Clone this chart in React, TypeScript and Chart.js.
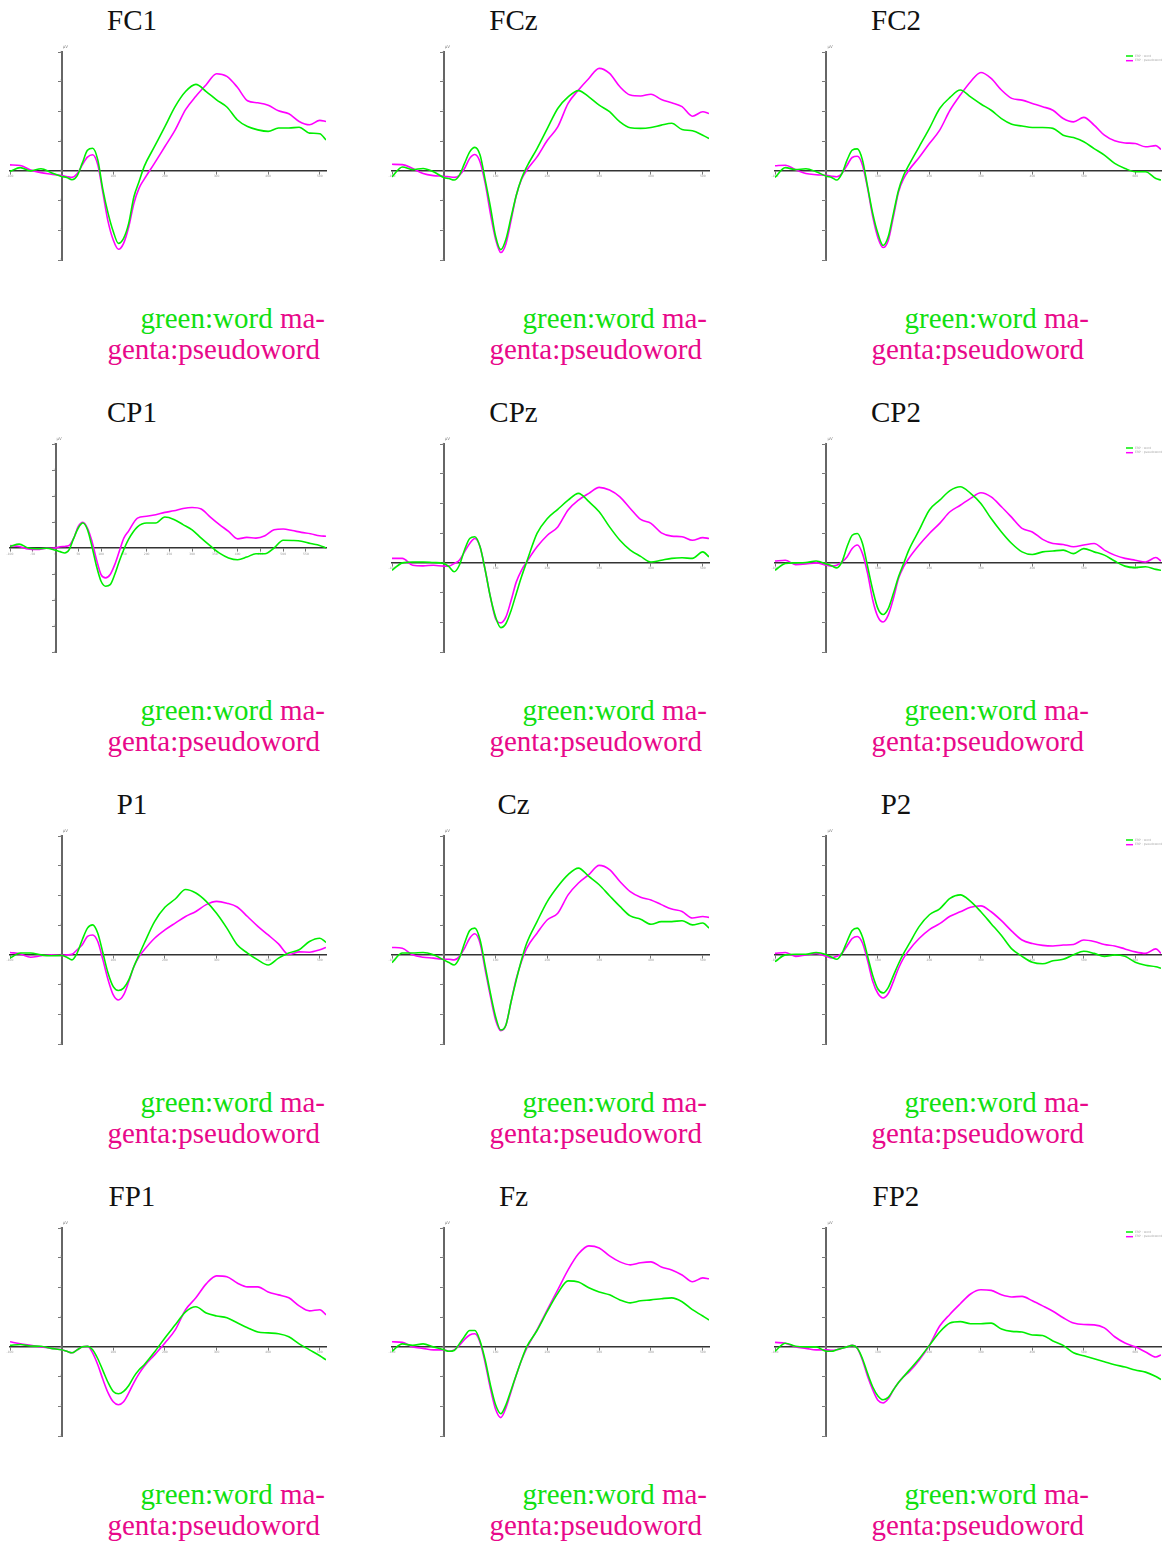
import React, { useEffect, useRef } from "react";
import { Chart, registerables } from "chart.js";

Chart.register(...registerables);

// ---- time axes (ms) ----
const T_BASE = [-100, -80, -60, -40, -20, 0, 10, 20, 30, 40, 50, 60, 70, 80, 90, 100, 110, 120, 130, 140, 150, 160, 180, 200, 220, 240, 260, 280, 300, 320, 340, 360, 380, 400, 420, 440, 460, 480, 500];
const T_STD = [...T_BASE, 512];
const T_RIGHT = [...T_BASE, 520, 540, 560, 580, 600, 620, 640, 650];
const T_CP1 = [...T_BASE, 520, 540, 560, 580, 594];

// ---- series (word = green, pseudoword = magenta) ----
const FC1_WORD = [-0.02, 0.11, 0, 0.07, -0.06, -0.19, -0.22, -0.3, -0.17, 0.26, 0.69, 0.76, 0.37, -0.64, -1.43, -2.04, -2.44, -2.27, -1.76, -0.87, -0.36, 0.15, 0.82, 1.49, 2.17, 2.67, 2.91, 2.67, 2.39, 2.15, 1.72, 1.49, 1.38, 1.33, 1.44, 1.44, 1.47, 1.27, 1.25, 1.04];
const FC1_PSEUDO = [0.2, 0.18, 0.03, -0.06, -0.11, -0.16, -0.19, -0.22, -0.1, 0.2, 0.46, 0.54, 0.2, -0.75, -1.71, -2.33, -2.64, -2.44, -1.88, -1.09, -0.58, -0.28, 0.26, 0.82, 1.38, 2.06, 2.51, 2.9, 3.27, 3.18, 2.82, 2.36, 2.29, 2.21, 2.02, 1.92, 1.66, 1.55, 1.7, 1.66];

const FCZ_WORD = [-0.2, 0.13, 0.04, 0.08, -0.03, -0.22, -0.26, -0.31, -0.15, 0.25, 0.64, 0.79, 0.53, -0.31, -1.21, -2.2, -2.65, -2.3, -1.55, -0.82, -0.26, 0.13, 0.75, 1.43, 2.1, 2.49, 2.7, 2.49, 2.21, 1.99, 1.65, 1.45, 1.43, 1.46, 1.54, 1.6, 1.39, 1.35, 1.2, 1.09];
const FCZ_PSEUDO = [0.22, 0.21, 0.08, -0.09, -0.16, -0.18, -0.2, -0.22, -0.15, 0.08, 0.42, 0.55, 0.3, -0.43, -1.44, -2.3, -2.75, -2.45, -1.66, -0.82, -0.29, 0.02, 0.47, 1.03, 1.48, 2.27, 2.72, 3.11, 3.45, 3.28, 2.83, 2.55, 2.52, 2.58, 2.4, 2.29, 2.16, 1.84, 1.99, 1.93];

const FC2_WORD = [-0.22, 0.11, 0.04, 0.07, -0.03, -0.18, -0.22, -0.31, -0.09, 0.36, 0.7, 0.74, 0.36, -0.54, -1.44, -2.11, -2.51, -2.22, -1.44, -0.65, -0.15, 0.19, 0.81, 1.43, 2.1, 2.47, 2.72, 2.49, 2.25, 2.04, 1.76, 1.57, 1.51, 1.46, 1.46, 1.43, 1.2, 1.12, 0.98, 0.75, 0.53, 0.25, 0.08, -0.03, -0.03, -0.26, -0.31];
const FC2_PSEUDO = [0.17, 0.19, 0.04, -0.09, -0.13, -0.15, -0.18, -0.2, -0.09, 0.19, 0.45, 0.49, 0.19, -0.6, -1.55, -2.25, -2.58, -2.34, -1.55, -0.71, -0.26, 0.02, 0.45, 0.92, 1.37, 2.04, 2.55, 3.0, 3.31, 3.11, 2.72, 2.44, 2.38, 2.27, 2.16, 2.04, 1.76, 1.65, 1.8, 1.54, 1.2, 1.01, 0.94, 0.92, 0.81, 0.85, 0.72];

const CP1_WORD = [0.06, 0.15, 0, -0.03, -0.01, -0.09, -0.14, -0.19, -0.06, 0.38, 0.77, 0.96, 0.71, 0.06, -0.7, -1.28, -1.47, -1.41, -1.02, -0.51, -0.06, 0.32, 0.81, 0.96, 0.96, 1.19, 1.1, 0.9, 0.7, 0.38, 0.08, -0.2, -0.38, -0.45, -0.35, -0.22, -0.22, 0, 0.3, 0.29, 0.26, 0.17, 0.1, 0];
const CP1_PSEUDO = [0.09, 0.06, -0.04, -0.06, -0.01, 0, 0.05, 0.06, 0.1, 0.38, 0.83, 0.99, 0.77, 0.26, -0.45, -1.02, -1.15, -1.02, -0.64, -0.13, 0.38, 0.64, 1.15, 1.22, 1.28, 1.37, 1.43, 1.52, 1.56, 1.5, 1.19, 0.9, 0.64, 0.35, 0.41, 0.38, 0.47, 0.7, 0.73, 0.67, 0.6, 0.55, 0.47, 0.45];

const CPZ_WORD = [-0.25, 0, 0.03, 0.03, 0.01, -0.02, -0.13, -0.3, -0.08, 0.43, 0.82, 0.88, 0.54, -0.25, -1.15, -1.82, -2.18, -2.04, -1.6, -1.03, -0.47, 0.03, 0.99, 1.49, 1.8, 2.11, 2.34, 2.06, 1.72, 1.21, 0.76, 0.43, 0.22, 0.03, 0.09, 0.15, 0.17, 0.15, 0.37, 0.2];
const CPZ_PSEUDO = [0.15, 0.15, -0.08, -0.1, -0.08, -0.11, -0.11, -0.02, 0.09, 0.37, 0.65, 0.82, 0.54, -0.25, -1.15, -1.88, -2.02, -1.82, -1.26, -0.64, -0.25, 0.03, 0.54, 0.93, 1.21, 1.78, 2.11, 2.34, 2.54, 2.45, 2.22, 1.83, 1.46, 1.33, 1.01, 0.9, 0.88, 0.76, 0.85, 0.82];

const CP2_WORD = [-0.25, -0.02, 0, 0.01, 0.06, -0.04, -0.1, -0.17, 0.03, 0.54, 0.93, 0.99, 0.65, -0.13, -0.92, -1.54, -1.74, -1.54, -1.03, -0.47, -0.02, 0.43, 1.1, 1.78, 2.11, 2.43, 2.56, 2.34, 2.0, 1.49, 1.04, 0.65, 0.37, 0.28, 0.37, 0.4, 0.43, 0.31, 0.48, 0.37, 0.26, 0.06, -0.11, -0.16, -0.13, -0.22, -0.25];
const CP2_PSEUDO = [0.06, 0.09, -0.06, -0.04, 0, -0.08, -0.11, -0.08, 0.03, 0.2, 0.48, 0.6, 0.31, -0.36, -1.26, -1.82, -1.99, -1.76, -1.2, -0.53, -0.13, 0.15, 0.6, 0.99, 1.33, 1.72, 1.94, 2.17, 2.36, 2.22, 1.89, 1.53, 1.16, 1.04, 0.79, 0.65, 0.62, 0.54, 0.6, 0.65, 0.43, 0.26, 0.15, 0.09, 0.03, 0.18, 0.06];

const P1_WORD = [-0.11, 0.06, 0.06, 0, -0.03, -0.02, -0.08, -0.17, 0.06, 0.51, 0.9, 1.01, 0.73, 0.06, -0.62, -1.07, -1.2, -1.12, -0.84, -0.39, 0, 0.39, 1.12, 1.6, 1.88, 2.2, 2.08, 1.8, 1.4, 0.9, 0.34, 0.06, -0.17, -0.34, -0.11, 0.06, 0.17, 0.45, 0.56, 0.42];
const P1_PSEUDO = [0.08, 0.03, -0.08, -0.03, 0, -0.02, 0, 0.02, 0.17, 0.34, 0.62, 0.67, 0.45, -0.17, -0.84, -1.35, -1.52, -1.35, -0.9, -0.39, -0.06, 0.17, 0.56, 0.84, 1.07, 1.29, 1.46, 1.69, 1.8, 1.74, 1.61, 1.29, 0.96, 0.67, 0.37, 0.01, 0.1, 0.09, 0.17, 0.25];

const CZ_WORD = [-0.26, 0.06, 0.06, 0.08, 0, -0.17, -0.26, -0.34, -0.11, 0.39, 0.82, 0.9, 0.51, -0.39, -1.29, -2.08, -2.53, -2.36, -1.57, -0.84, -0.17, 0.39, 1.12, 1.8, 2.3, 2.7, 2.92, 2.64, 2.36, 1.99, 1.63, 1.31, 1.2, 1.03, 1.12, 1.12, 1.15, 1.01, 1.07, 0.9];
const CZ_PSEUDO = [0.25, 0.22, 0, -0.08, -0.11, -0.15, -0.15, -0.17, -0.06, 0.22, 0.56, 0.71, 0.39, -0.51, -1.4, -2.19, -2.55, -2.36, -1.57, -0.79, -0.22, 0.22, 0.73, 1.18, 1.4, 2.02, 2.42, 2.7, 3.01, 2.87, 2.47, 2.13, 1.94, 1.85, 1.69, 1.54, 1.46, 1.24, 1.29, 1.26];

const P2_WORD = [-0.23, 0, 0.02, 0.02, 0.08, 0, -0.08, -0.15, 0.05, 0.45, 0.82, 0.9, 0.6, -0.05, -0.7, -1.15, -1.28, -1.1, -0.7, -0.3, 0.05, 0.35, 0.95, 1.35, 1.55, 1.9, 2.02, 1.8, 1.45, 1.05, 0.65, 0.2, -0.05, -0.25, -0.3, -0.2, -0.15, 0, 0.12, 0.05, -0.05, 0, -0.05, -0.25, -0.35, -0.4, -0.45];
const P2_PSEUDO = [0.05, 0.08, -0.05, 0, 0.05, -0.05, -0.1, -0.05, 0.05, 0.3, 0.55, 0.62, 0.4, -0.2, -0.9, -1.3, -1.45, -1.3, -0.9, -0.45, -0.1, 0.15, 0.55, 0.85, 1.05, 1.3, 1.45, 1.6, 1.65, 1.45, 1.15, 0.8, 0.5, 0.38, 0.32, 0.3, 0.33, 0.35, 0.5, 0.45, 0.35, 0.3, 0.2, 0.1, 0.05, 0.2, 0.05];

const FP1_WORD = [0.05, 0.08, 0.03, 0.02, -0.05, -0.1, -0.15, -0.2, -0.1, 0, 0.02, -0.1, -0.4, -0.8, -1.2, -1.5, -1.58, -1.5, -1.3, -1.0, -0.77, -0.6, -0.17, 0.3, 0.74, 1.18, 1.35, 1.14, 1.04, 0.98, 0.81, 0.64, 0.5, 0.47, 0.44, 0.34, 0.1, -0.1, -0.3, -0.44];
const FP1_PSEUDO = [0.17, 0.1, 0.05, 0, -0.05, -0.1, -0.15, -0.2, -0.1, 0, 0.02, -0.2, -0.6, -1.1, -1.55, -1.85, -1.95, -1.85, -1.55, -1.2, -0.9, -0.65, -0.27, 0.13, 0.57, 1.25, 1.65, 2.12, 2.39, 2.36, 2.15, 2.02, 2.02, 1.85, 1.75, 1.65, 1.38, 1.21, 1.25, 1.08];

const FZ_WORD = [-0.15, 0.1, 0.05, 0.1, 0, -0.1, -0.15, -0.12, 0.1, 0.35, 0.55, 0.55, 0.2, -0.45, -1.28, -1.95, -2.25, -1.95, -1.45, -0.94, -0.44, 0, 0.55, 1.2, 1.8, 2.22, 2.18, 1.99, 1.85, 1.75, 1.58, 1.48, 1.55, 1.58, 1.62, 1.65, 1.52, 1.25, 1.04, 0.9];
const FZ_PSEUDO = [0.17, 0.15, 0, -0.05, -0.1, -0.1, -0.15, -0.1, 0.05, 0.25, 0.4, 0.44, 0.15, -0.55, -1.4, -2.1, -2.38, -2.05, -1.5, -0.95, -0.45, -0.05, 0.57, 1.25, 1.92, 2.59, 3.13, 3.4, 3.33, 3.06, 2.86, 2.76, 2.83, 2.86, 2.69, 2.59, 2.42, 2.19, 2.32, 2.29];

const FP2_WORD = [-0.15, 0.12, 0.02, 0, 0, -0.15, -0.15, -0.1, -0.05, 0, 0.05, -0.05, -0.4, -0.9, -1.35, -1.65, -1.78, -1.7, -1.45, -1.2, -1.0, -0.8, -0.4, 0.05, 0.5, 0.8, 0.85, 0.78, 0.78, 0.8, 0.6, 0.52, 0.5, 0.4, 0.38, 0.2, 0.05, -0.2, -0.3, -0.4, -0.5, -0.6, -0.68, -0.78, -0.85, -1.0, -1.1];
const FP2_PSEUDO = [0.15, 0.12, 0, -0.05, -0.1, -0.1, -0.12, -0.1, -0.05, 0, 0.05, -0.05, -0.45, -1.0, -1.45, -1.8, -1.89, -1.75, -1.45, -1.2, -1.0, -0.85, -0.45, 0.05, 0.7, 1.1, 1.45, 1.78, 1.92, 1.9, 1.75, 1.68, 1.7, 1.55, 1.38, 1.2, 0.98, 0.8, 0.75, 0.74, 0.64, 0.34, 0.13, 0, -0.17, -0.34, -0.27];

const WORD_LABEL = "ERP : word";
const PSEUDO_LABEL = "ERP : pseudoword";
const UNIT_LABEL = "µV";

// ---- panel table ----
const PANELS = [
  { name: "FC1", row: 0, col: 0, t: T_STD, word: FC1_WORD, pseudo: FC1_PSEUDO },
  { name: "FCz", row: 0, col: 1, t: T_STD, word: FCZ_WORD, pseudo: FCZ_PSEUDO },
  { name: "FC2", row: 0, col: 2, t: T_RIGHT, word: FC2_WORD, pseudo: FC2_PSEUDO },
  { name: "CP1", row: 1, col: 0, t: T_CP1, word: CP1_WORD, pseudo: CP1_PSEUDO, wide: true },
  { name: "CPz", row: 1, col: 1, t: T_STD, word: CPZ_WORD, pseudo: CPZ_PSEUDO },
  { name: "CP2", row: 1, col: 2, t: T_RIGHT, word: CP2_WORD, pseudo: CP2_PSEUDO },
  { name: "P1", row: 2, col: 0, t: T_STD, word: P1_WORD, pseudo: P1_PSEUDO },
  { name: "Cz", row: 2, col: 1, t: T_STD, word: CZ_WORD, pseudo: CZ_PSEUDO },
  { name: "P2", row: 2, col: 2, t: T_RIGHT, word: P2_WORD, pseudo: P2_PSEUDO },
  { name: "FP1", row: 3, col: 0, t: T_STD, word: FP1_WORD, pseudo: FP1_PSEUDO },
  { name: "Fz", row: 3, col: 1, t: T_STD, word: FZ_WORD, pseudo: FZ_PSEUDO },
  { name: "FP2", row: 3, col: 2, t: T_RIGHT, word: FP2_WORD, pseudo: FP2_PSEUDO },
];

// ---- layout constants ----
const ROW_H = 392;
const PAD = 8;
const COL_CHART_LEFT = [10, 392, 775];
const COL_CHART_RIGHT = [326, 709, 1161];
const CHART_TOP = 52;
const CHART_H = 208;
const TITLE_CX = [132, 513.5, 896];
const CAPTION_RIGHT = [325, 707, 1089];
const GREEN = "#00ee00";
const MAGENTA = "#ff00ff";
const CAP_GREEN = "#10e010";
const CAP_MAGENTA = "#e8088a";
const SERIF = '"Liberation Serif", "Times New Roman", serif';

const decorPlugin = {
  id: "decor",
  afterDraw(chart: any, _args: any, opts: any) {
    const ctx = chart.ctx;
    const { top, right } = chart.chartArea;
    const x0 = chart.scales.x.getPixelForValue(0);
    ctx.save();
    ctx.font = '4px "DejaVu Sans"';
    ctx.fillStyle = "#888";
    ctx.textAlign = "left";
    ctx.textBaseline = "bottom";
    ctx.fillText(opts.unit || "", x0 + 1, top - 3);
    if (opts.showLegend) {
      chart.data.datasets.forEach((ds: any, i: number) => {
        const y = top + 4 + i * 4.7;
        const lx = right - 35;
        ctx.strokeStyle = ds.borderColor;
        ctx.lineWidth = 1.5;
        ctx.beginPath();
        ctx.moveTo(lx, y);
        ctx.lineTo(lx + 7, y);
        ctx.stroke();
        ctx.fillStyle = "#aaa";
        ctx.font = '3px "DejaVu Sans"';
        ctx.textBaseline = "middle";
        ctx.fillText(ds.label, lx + 9, y);
      });
    }
    ctx.restore();
  },
};

function Panel({ p }: { p: any }) {
  const ref = useRef<HTMLCanvasElement | null>(null);
  const left = COL_CHART_LEFT[p.col];
  const right = COL_CHART_RIGHT[p.col];
  const w = right - left + 2 * PAD;
  const h = CHART_H + 2 * PAD;
  const top = CHART_TOP + p.row * ROW_H - PAD;
  const xMax = p.t[p.t.length - 1];
  const yMin = p.wide ? -4 : -3;
  const yMax = 4;

  useEffect(() => {
    if (!ref.current) return;
    const tickFont = { size: 3, family: "DejaVu Sans" };
    const chart = new Chart(ref.current, {
      type: "line",
      data: {
        datasets: [
          {
            label: WORD_LABEL,
            data: p.t.map((t: number, i: number) => ({ x: t, y: p.word[i] })),
            borderColor: GREEN,
            backgroundColor: GREEN,
          },
          {
            label: PSEUDO_LABEL,
            data: p.t.map((t: number, i: number) => ({ x: t, y: p.pseudo[i] })),
            borderColor: MAGENTA,
            backgroundColor: MAGENTA,
          },
        ],
      },
      options: {
        responsive: false,
        maintainAspectRatio: false,
        animation: false,
        layout: { padding: PAD },
        elements: {
          point: { radius: 0 },
          line: { borderWidth: 1.6, cubicInterpolationMode: "monotone", tension: 0.4 },
        },
        plugins: {
          legend: { display: false },
          tooltip: { enabled: false },
          decor: { unit: UNIT_LABEL, showLegend: p.col === 2 },
        } as any,
        scales: {
          x: {
            type: "linear",
            min: -100,
            max: xMax,
            position: { y: 0 } as any,
            ticks: {
              stepSize: p.wide ? 50 : 100,
              includeBounds: false,
              autoSkip: false,
              maxRotation: 0,
              font: tickFont,
              color: "#999",
              padding: 1,
            },
            grid: { display: true, drawOnChartArea: false, drawTicks: true, tickLength: 3, color: "#777" },
            border: { display: true, color: "#333", width: 1.6 },
          },
          y: {
            type: "linear",
            min: yMin,
            max: yMax,
            position: { x: 0 } as any,
            ticks: { stepSize: 1, font: tickFont, color: "#999", padding: 2 },
            grid: { display: true, drawOnChartArea: false, drawTicks: true, tickLength: 3, color: "#777" },
            border: { display: true, color: "#666", width: 2 },
          },
        },
      },
      plugins: [decorPlugin],
    } as any);
    return () => chart.destroy();
  }, []);

  return (
    <canvas
      ref={ref}
      width={w}
      height={h}
      style={{ position: "absolute", left: left - PAD, top, width: w, height: h }}
    />
  );
}

function Caption({ col, row }: { col: number; row: number }) {
  const r = CAPTION_RIGHT[col];
  const base = 303.4 + row * ROW_H;
  const common: any = {
    position: "absolute",
    width: 400,
    textAlign: "right",
    fontFamily: SERIF,
    fontSize: 29,
    lineHeight: "31px",
    whiteSpace: "nowrap",
  };
  return (
    <>
      <div style={{ ...common, left: r - 400, top: base }}>
        <span style={{ color: CAP_GREEN }}>green:word</span>
        <span style={{ color: CAP_MAGENTA }}> ma-</span>
      </div>
      <div style={{ ...common, left: r - 5 - 400, top: base + 30.5, color: CAP_MAGENTA }}>
        genta:pseudoword
      </div>
    </>
  );
}

export default function App() {
  return (
    <div
      style={{
        position: "absolute",
        left: 0,
        top: 0,
        width: 1168,
        height: 1543,
        background: "#fff",
        overflow: "hidden",
      }}
    >
      {PANELS.map((p) => (
        <React.Fragment key={p.name}>
          <div
            style={{
              position: "absolute",
              left: TITLE_CX[p.col] - 100,
              width: 200,
              top: 6.4 + p.row * ROW_H,
              textAlign: "center",
              fontFamily: SERIF,
              fontSize: 29,
              lineHeight: "29px",
              color: "#111",
            }}
          >
            {p.name}
          </div>
          <Panel p={p} />
          <Caption col={p.col} row={p.row} />
        </React.Fragment>
      ))}
    </div>
  );
}
